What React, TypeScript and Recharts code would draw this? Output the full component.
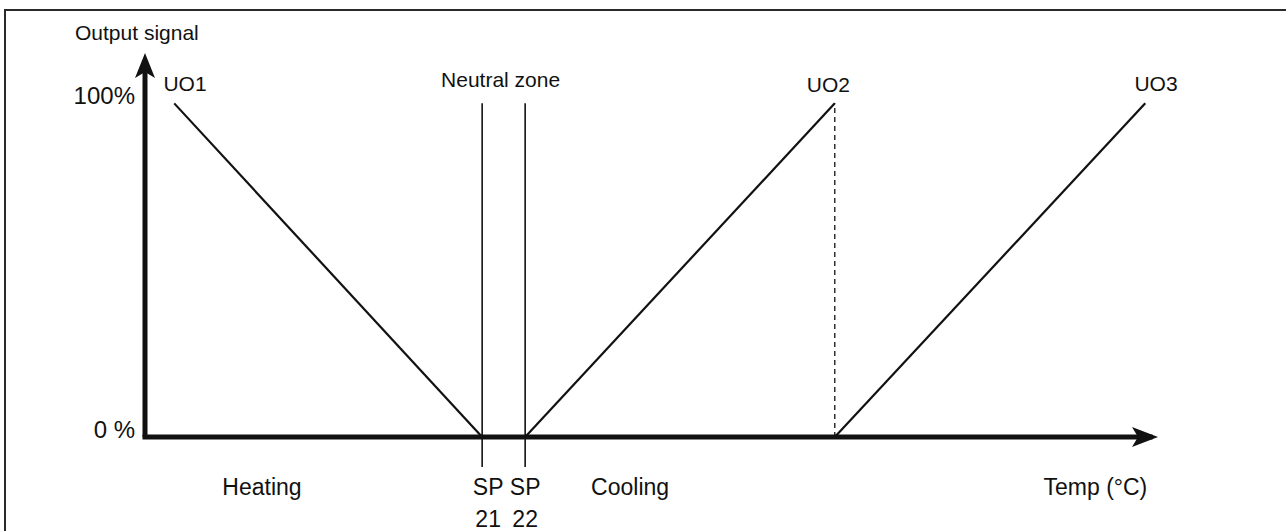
import React from 'react';
import { ComposedChart, Line, XAxis, YAxis, ReferenceLine, ReferenceDot } from 'recharts';

const FONT = '"Liberation Sans", Arial, Helvetica, sans-serif';
const INK = '#111';

// schematic temperature axis (°C) and output signal (%)
const X_RANGE = [13.16, 36.53];
const Y_RANGE = [0, 113];

// output ramps
const uo1 = [{ t: 13.84, v: 100 }, { t: 21, v: 0 }];
const uo2 = [{ t: 22, v: 0 }, { t: 29.2, v: 100 }];
const uo3 = [{ t: 29.2, v: 0 }, { t: 36.42, v: 100 }];
const uo2Drop = [{ t: 29.2, v: 0 }, { t: 29.2, v: 100 }];

// neutral zone setpoints
const setpoints = [21, 22];
const neutralSpan = [-9, 100];

const yTicks = [0, 100];
const yTickLabels = ['0 %', '100%'];

const xTicks = [15.88, 21, 22, 24.44, 35.26];
const xTickLabels = [['Heating'], ['SP', '21'], ['SP', '22'], ['Cooling'], ['Temp (°C)']];

const seriesNames = ['UO1', 'UO2', 'UO3'];
const seriesNameAt = [
  { t: 14.09, v: 103.7 },
  { t: 29.05, v: 103.4 },
  { t: 36.67, v: 103.7 },
];
const neutralLabel = { text: 'Neutral zone', t: 21.43, v: 104.9 };

const YTick = ({ x, y, payload }: any) => {
  const i = yTicks.indexOf(payload.value);
  return (
    <text x={x} y={y + 1} textAnchor="end" fontSize={24} fill={INK} fontFamily={FONT}>
      {yTickLabels[i]}
    </text>
  );
};

const XTick = ({ x, y, index }: any) => {
  const lines = xTickLabels[index] || [];
  const nudge = xTicks[index] === 21 ? 6 : 0; // first SP sits a little right of its line
  return (
    <text x={x + nudge} y={y + 50} textAnchor="middle" fontSize={23} fill={INK} fontFamily={FONT}>
      {lines.map((l: string, k: number) => (
        <tspan key={k} x={x + nudge} dy={k === 0 ? 0 : 32}>{l}</tspan>
      ))}
    </text>
  );
};

const textShape = (label: string, size: number) => (p: any) => (
  <text x={p.cx} y={p.cy} textAnchor="middle" fontSize={size} fill={INK} fontFamily={FONT}>
    {label}
  </text>
);

const App = () => {
  return (
    <div style={{ position: 'absolute', left: 0, top: 0, width: 1286, height: 531, background: '#fff', overflow: 'hidden' }}>
      <div style={{ position: 'absolute', left: 4, top: 9, width: 1300, height: 560, borderTop: '2px solid #2a2a2a', borderLeft: '2px solid #2a2a2a' }} />
      <ComposedChart width={1286} height={531} margin={{ top: 60, right: 136, bottom: 0, left: 85 }}>
        <XAxis
          type="number"
          dataKey="t"
          domain={X_RANGE}
          allowDataOverflow
          ticks={xTicks}
          interval={0}
          tickLine={false}
          height={94}
          axisLine={{ stroke: INK, strokeWidth: 5, strokeLinecap: 'square' }}
          tick={<XTick />}
        />
        <YAxis
          type="number"
          domain={Y_RANGE}
          allowDataOverflow
          ticks={yTicks}
          interval={0}
          tickLine={false}
          tickMargin={4}
          width={60}
          axisLine={{ stroke: INK, strokeWidth: 5 }}
          tick={<YTick />}
          label={{
            content: (p: any) => {
              const vb = p.viewBox || { x: 85, y: 60, width: 60 };
              return (
                <text x={vb.x + vb.width - 70} y={vb.y - 20} fontSize={21} fill={INK} fontFamily={FONT}>
                  Output signal
                </text>
              );
            },
          }}
        />

        {setpoints.map((sp) => (
          <ReferenceLine
            key={sp}
            segment={[{ x: sp, y: neutralSpan[0] }, { x: sp, y: neutralSpan[1] }]}
            stroke={INK}
            strokeWidth={1.6}
            ifOverflow="visible"
          />
        ))}

        <Line data={uo1} dataKey="v" stroke={INK} strokeWidth={2.2} dot={false} isAnimationActive={false} />
        <Line data={uo2} dataKey="v" stroke={INK} strokeWidth={2.2} dot={false} isAnimationActive={false} />
        <Line data={uo3} dataKey="v" stroke={INK} strokeWidth={2.2} dot={false} isAnimationActive={false} />
        <Line data={uo2Drop} dataKey="v" stroke={INK} strokeWidth={1.3} strokeDasharray="5 4" dot={false} isAnimationActive={false} />

        {/* axis arrow heads */}
        <ReferenceDot
          x={X_RANGE[1]}
          y={0}
          r={1}
          ifOverflow="visible"
          shape={(p: any) => (
            <path d={`M${p.cx + 8},${p.cy} L${p.cx - 18},${p.cy - 10} L${p.cx - 12},${p.cy} L${p.cx - 18},${p.cy + 10} Z`} fill={INK} />
          )}
        />
        <ReferenceDot
          x={X_RANGE[0]}
          y={Y_RANGE[1]}
          r={1}
          ifOverflow="visible"
          shape={(p: any) => (
            <path d={`M${p.cx},${p.cy - 7} L${p.cx + 10},${p.cy + 18} L${p.cx},${p.cy + 12} L${p.cx - 10},${p.cy + 18} Z`} fill={INK} />
          )}
        />

        {seriesNames.map((name, i) => (
          <ReferenceDot key={name} x={seriesNameAt[i].t} y={seriesNameAt[i].v} r={1} ifOverflow="visible" shape={textShape(name, 21)} />
        ))}
        <ReferenceDot x={neutralLabel.t} y={neutralLabel.v} r={1} ifOverflow="visible" shape={textShape(neutralLabel.text, 21)} />
      </ComposedChart>
    </div>
  );
};

export default App;
